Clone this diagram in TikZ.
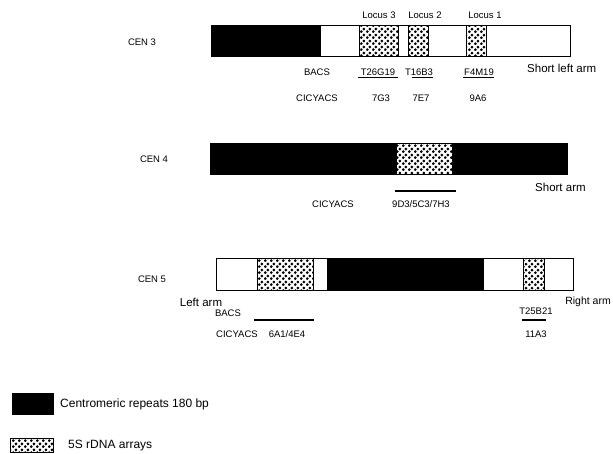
\documentclass[tikz,border=0pt]{standalone}
\usepackage{fontspec}
\setmainfont{Liberation Sans}
\usetikzlibrary{patterns}
\pgfdeclarepatternformonly{bigdots}{\pgfqpoint{0pt}{0pt}}{\pgfqpoint{6pt}{6pt}}{\pgfqpoint{6pt}{6pt}}{%
\pgfpathcircle{\pgfqpoint{1.5pt}{1.5pt}}{1.7pt}%
\pgfpathcircle{\pgfqpoint{4.5pt}{4.5pt}}{1.7pt}%
\pgfusepath{fill}}
\begin{document}
\begin{tikzpicture}[x=1pt,y=-1pt,
  lab/.style={font=\fontsize{9.5}{10}\selectfont, inner sep=0},
  big/.style={font=\fontsize{11.5}{12}\selectfont, inner sep=0},
  leg/.style={font=\fontsize{12}{13}\selectfont, inner sep=0},
  blk/.style={fill=black, draw=black, line width=0.8pt},
  wht/.style={fill=white, draw=black, line width=0.8pt},
  dot/.style={preaction={fill=white}, pattern=bigdots, draw=black, line width=0.8pt},
  bar/.style={line width=1.6pt}]
\useasboundingbox (0,0) rectangle (613,453);
% ---------- CEN 3 ----------
\draw[wht] (211,25) rectangle (570,56);
\draw[blk] (211,25) rectangle (320,56);
\draw[dot] (359,25) rectangle (398,56);
\draw[dot] (408,25) rectangle (428,56);
\draw[dot] (466,25) rectangle (486,56);
\node[lab] (cen3) at (142,42) {CEN 3};
\node[lab] (l3) at (379,15) {Locus 3};
\node[lab] (l2) at (425,15) {Locus 2};
\node[lab] (l1) at (485,15) {Locus 1};
\node[big,anchor=west] (sla) at (527,68) {Short left arm};
\node[lab] (bacs3) at (317,72) {BACS};
\node[lab] (t26) at (378,72) {T26G19};
\node[lab] (t16) at (419,72) {T16B3};
\node[lab] (f4) at (479,72) {F4M19};
\coordinate (u1a) at (358,77.5); \coordinate (u1b) at (398,77.5);
\coordinate (u2a) at (412,77.5); \coordinate (u2b) at (433,77.5);
\coordinate (u3a) at (463,77.5); \coordinate (u3b) at (494,77.5);
\draw[line width=1.2pt] (u1a) -- (u1b);
\draw[line width=1.2pt] (u2a) -- (u2b);
\draw[line width=1.2pt] (u3a) -- (u3b);
\node[lab] (cic3) at (317,98) {CICYACS};
\node[lab] (g3) at (381,98) {7G3};
\node[lab] (e7) at (421,98) {7E7};
\node[lab] (a6) at (478,98) {9A6};
% ---------- CEN 4 ----------
\draw[blk] (210,143) rectangle (567,174);
\draw[dot] (396,143) rectangle (452,174);
\node[lab] (cen4) at (154,159) {CEN 4};
\node[big,anchor=west] (sa) at (535,187) {Short arm};
\coordinate (u4a) at (395,191); \coordinate (u4b) at (456,191);
\draw[bar] (u4a) -- (u4b);
\node[lab] (cic4) at (333,204) {CICYACS};
\node[lab] (d3) at (421,204) {9D3/5C3/7H3};
% ---------- CEN 5 ----------
\draw[wht] (216,258) rectangle (573,290);
\draw[dot] (257,258) rectangle (313,290);
\draw[blk] (327,258) rectangle (483,290);
\draw[dot] (523,258) rectangle (544,290);
\draw[line width=0.8pt] (216,258) rectangle (573,290);
\node[lab] (cen5) at (152,279) {CEN 5};
\node[big] (la) at (201,302) {Left arm};
\node[font=\fontsize{10.5}{11}\selectfont, inner sep=0, anchor=east] (ra) at (611,302) {Right arm};
\node[lab] (bacs5) at (228,313) {BACS};
\node[lab] (t25) at (536,311) {T25B21};
\coordinate (u5a) at (254,320); \coordinate (u5b) at (314,320);
\coordinate (u6a) at (522,320); \coordinate (u6b) at (546,320);
\draw[bar] (u5a) -- (u5b);
\draw[bar] (u6a) -- (u6b);
\node[lab] (cic5) at (237,334) {CICYACS};
\node[lab] (a1) at (287,334) {6A1/4E4};
\node[lab] (a3) at (536,334) {11A3};
% ---------- legend ----------
\draw[blk] (12,393) rectangle (53,414);
\node[leg,anchor=west] (lg1) at (60,404) {Centromeric repeats 180 bp};
\draw[dot] (10,438) rectangle (53,452);
\node[leg,anchor=west] (lg2) at (68,446) {5S rDNA arrays};
\end{tikzpicture}
\end{document}
